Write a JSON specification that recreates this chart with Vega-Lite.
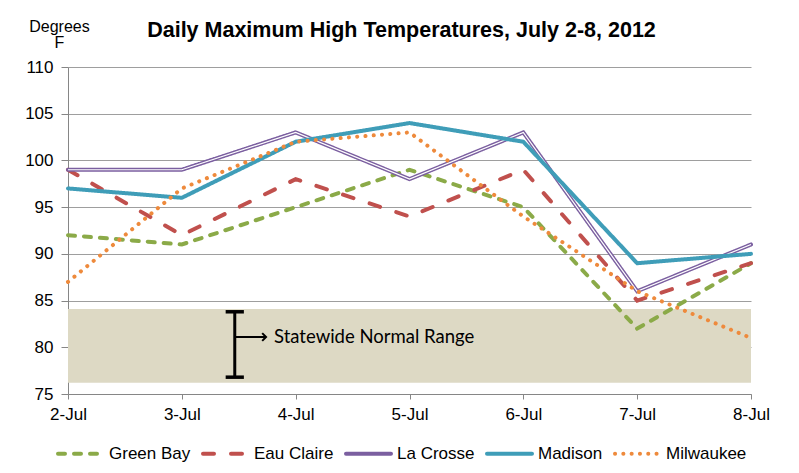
{
  "$schema": "https://vega.github.io/schema/vega-lite/v6.json",
  "width": 683,
  "height": 327,
  "autosize": {"type": "none"},
  "padding": {"left": 68, "top": 67, "right": 48, "bottom": 79},
  "background": "white",
  "title": {
    "text": "Daily Maximum High Temperatures, July 2-8, 2012",
    "font": "Liberation Sans",
    "fontSize": 21.5,
    "fontWeight": "bold",
    "color": "black",
    "anchor": "middle",
    "dx": -8,
    "offset": -23
  },
  "config": {
    "view": {"stroke": null},
    "font": "Liberation Sans",
    "legend": {
      "orient": "none",
      "legendX": -12,
      "legendY": 362,
      "direction": "horizontal",
      "columns": 5,
      "title": null,
      "symbolType": "stroke",
      "symbolSize": 2025,
      "labelFontSize": 17,
      "labelColor": "black",
      "labelFont": "Liberation Sans",
      "labelOffset": 4,
      "columnPadding": 4,
      "labelLimit": 200
    }
  },
  "datasets": {
    "temps": [
      {"city": "Green Bay", "day": 2, "temp": 92},
      {"city": "Green Bay", "day": 3, "temp": 91},
      {"city": "Green Bay", "day": 4, "temp": 95},
      {"city": "Green Bay", "day": 5, "temp": 99},
      {"city": "Green Bay", "day": 6, "temp": 95},
      {"city": "Green Bay", "day": 7, "temp": 82},
      {"city": "Green Bay", "day": 8, "temp": 89},
      {"city": "Eau Claire", "day": 2, "temp": 99},
      {"city": "Eau Claire", "day": 3, "temp": 92},
      {"city": "Eau Claire", "day": 4, "temp": 98},
      {"city": "Eau Claire", "day": 5, "temp": 94},
      {"city": "Eau Claire", "day": 6, "temp": 99},
      {"city": "Eau Claire", "day": 7, "temp": 85},
      {"city": "Eau Claire", "day": 8, "temp": 89},
      {"city": "La Crosse", "day": 2, "temp": 99},
      {"city": "La Crosse", "day": 3, "temp": 99},
      {"city": "La Crosse", "day": 4, "temp": 103},
      {"city": "La Crosse", "day": 5, "temp": 98},
      {"city": "La Crosse", "day": 6, "temp": 103},
      {"city": "La Crosse", "day": 7, "temp": 86},
      {"city": "La Crosse", "day": 8, "temp": 91},
      {"city": "Madison", "day": 2, "temp": 97},
      {"city": "Madison", "day": 3, "temp": 96},
      {"city": "Madison", "day": 4, "temp": 102},
      {"city": "Madison", "day": 5, "temp": 104},
      {"city": "Madison", "day": 6, "temp": 102},
      {"city": "Madison", "day": 7, "temp": 89},
      {"city": "Madison", "day": 8, "temp": 90},
      {"city": "Milwaukee", "day": 2, "temp": 87},
      {"city": "Milwaukee", "day": 3, "temp": 97},
      {"city": "Milwaukee", "day": 4, "temp": 102},
      {"city": "Milwaukee", "day": 5, "temp": 103},
      {"city": "Milwaukee", "day": 6, "temp": 94},
      {"city": "Milwaukee", "day": 7, "temp": 86},
      {"city": "Milwaukee", "day": 8, "temp": 81}
    ],
    "band": [{"from_day": 2, "to_day": 8, "low": 76.2, "high": 84.1}],
    "bar": [{"day": 3.465, "low": 76.8, "high": 83.8, "cap_left": 3.385, "cap_right": 3.545, "arrow_end": 3.74, "label_day": 3.81, "mid": 81.1, "label": "Statewide Normal Range"}]
  },
  "layer": [
    {
      "data": {"name": "band"},
      "mark": {"type": "rect", "color": "#DDD9C4"},
      "encoding": {
        "x": {"field": "from_day", "type": "quantitative",
          "scale": {"domain": [2, 8], "nice": false, "zero": false},
          "axis": {
            "values": [2, 3, 4, 5, 6, 7, 8],
            "labelExpr": "datum.value + '-Jul'",
            "grid": false,
            "title": null,
            "domainColor": "#868686",
            "tickColor": "#868686",
            "tickSize": 5,
            "labelFontSize": 17,
            "labelColor": "black",
            "labelPadding": 7,
            "labelFlush": false
          }
        },
        "x2": {"field": "to_day"},
        "y": {"field": "low", "type": "quantitative",
          "scale": {"domain": [75, 110], "nice": false, "zero": false},
          "axis": {
            "values": [75, 80, 85, 90, 95, 100, 105, 110],
            "grid": true,
            "gridColor": "#9E9E9E",
            "gridWidth": 1,
            "domainColor": "#868686",
            "tickColor": "#868686",
            "tickSize": 7,
            "labelFontSize": 17,
            "labelColor": "black",
            "labelPadding": 8,
            "title": ["Degrees", "F"],
            "titleAngle": 0,
            "titleAlign": "center",
            "titleBaseline": "alphabetic",
            "titleX": -9,
            "titleY": -36,
            "titleFontSize": 16,
            "titleFontWeight": "normal",
            "titleColor": "black",
            "titleLineHeight": 16
          }
        },
        "y2": {"field": "high"}
      }
    },
    {
      "data": {"name": "temps"},
      "transform": [{"filter": {"field": "city", "oneOf": ["Green Bay", "Eau Claire", "La Crosse"]}}],
      "mark": {"type": "line", "strokeCap": "round", "strokeJoin": "miter"},
      "encoding": {
        "x": {"field": "day", "type": "quantitative"},
        "y": {"field": "temp", "type": "quantitative"},
        "color": {"field": "city", "type": "nominal",
          "scale": {"domain": ["Green Bay", "Eau Claire", "La Crosse", "Madison", "Milwaukee"],
                    "range": ["#8BAA48", "#C0504D", "#7B5FA0", "#3F9DB8", "#EE8A3C"]},
          "legend": {"encode": {"symbols": {"update": {"strokeCap": {"value": "round"}}}}}},
        "strokeDash": {"field": "city", "type": "nominal",
          "scale": {"domain": ["Green Bay", "Eau Claire", "La Crosse", "Madison", "Milwaukee"],
                    "range": [[7, 9], [11, 17], [1, 0], [1, 0], [0.1, 8.2]]}},
        "strokeWidth": {"field": "city", "type": "nominal",
          "scale": {"domain": ["Green Bay", "Eau Claire", "La Crosse", "Madison", "Milwaukee"],
                    "range": [4, 4, 3.6, 4.5, 3.4]}}
      }
    },
    {
      "data": {"name": "temps"},
      "transform": [{"filter": {"field": "city", "equal": "La Crosse"}}],
      "mark": {"type": "line", "color": "white", "strokeWidth": 1.2, "strokeJoin": "miter"},
      "encoding": {
        "x": {"field": "day", "type": "quantitative"},
        "y": {"field": "temp", "type": "quantitative"}
      }
    },
    {
      "data": {"name": "temps"},
      "transform": [{"filter": {"field": "city", "oneOf": ["Madison", "Milwaukee"]}}],
      "mark": {"type": "line", "strokeCap": "round", "strokeJoin": "miter"},
      "encoding": {
        "x": {"field": "day", "type": "quantitative"},
        "y": {"field": "temp", "type": "quantitative"},
        "color": {"field": "city", "type": "nominal"},
        "strokeDash": {"field": "city", "type": "nominal"},
        "strokeWidth": {"field": "city", "type": "nominal"}
      }
    },
    {
      "data": {"name": "bar"},
      "mark": {"type": "rule", "color": "black", "strokeWidth": 3},
      "encoding": {
        "x": {"field": "day", "type": "quantitative"},
        "y": {"field": "low", "type": "quantitative"},
        "y2": {"field": "high"}
      }
    },
    {
      "data": {"name": "bar"},
      "mark": {"type": "rule", "color": "black", "strokeWidth": 3.5},
      "encoding": {
        "x": {"field": "cap_left", "type": "quantitative"},
        "x2": {"field": "cap_right"},
        "y": {"field": "high", "type": "quantitative"}
      }
    },
    {
      "data": {"name": "bar"},
      "mark": {"type": "rule", "color": "black", "strokeWidth": 3.5},
      "encoding": {
        "x": {"field": "cap_left", "type": "quantitative"},
        "x2": {"field": "cap_right"},
        "y": {"field": "low", "type": "quantitative"}
      }
    },
    {
      "data": {"name": "bar"},
      "mark": {"type": "rule", "color": "black", "strokeWidth": 2},
      "encoding": {
        "x": {"field": "day", "type": "quantitative"},
        "x2": {"field": "arrow_end"},
        "y": {"field": "mid", "type": "quantitative"}
      }
    },
    {
      "data": {"name": "bar"},
      "mark": {"type": "point", "shape": "M-1,-1L0,0L-1,1", "filled": false, "color": "black", "strokeWidth": 2, "size": 60, "opacity": 1},
      "encoding": {
        "x": {"field": "arrow_end", "type": "quantitative"},
        "y": {"field": "mid", "type": "quantitative"}
      }
    },
    {
      "data": {"name": "bar"},
      "mark": {"type": "text", "align": "left", "baseline": "middle", "font": "Lato", "fontSize": 18.5, "color": "black"},
      "encoding": {
        "x": {"field": "label_day", "type": "quantitative"},
        "y": {"field": "mid", "type": "quantitative"},
        "text": {"field": "label"}
      }
    }
  ]
}
